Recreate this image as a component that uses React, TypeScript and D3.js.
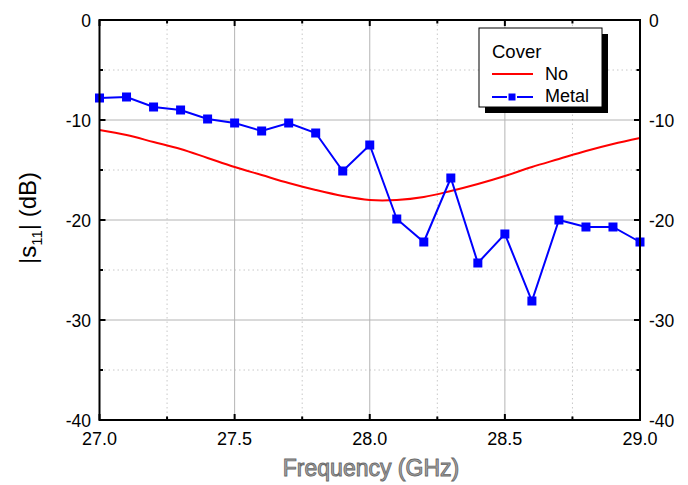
import React from "react";
import * as d3 from "d3";

const freqs = [27.0, 27.1, 27.2, 27.3, 27.4, 27.5, 27.6, 27.7, 27.8, 27.9, 28.0, 28.1, 28.2, 28.3, 28.4, 28.5, 28.6, 28.7, 28.8, 28.9, 29.0];
const noCover = [-11.0, -11.5, -12.2, -12.9, -13.8, -14.7, -15.5, -16.3, -17.0, -17.6, -18.0, -18.0, -17.7, -17.1, -16.4, -15.6, -14.7, -13.9, -13.1, -12.4, -11.8];
const metal = [-7.8, -7.7, -8.7, -9.0, -9.9, -10.3, -11.1, -10.3, -11.3, -15.1, -12.5, -19.9, -22.2, -15.8, -24.3, -21.4, -28.1, -20.0, -20.7, -20.7, -22.2];
const xTicks = [27.0, 27.5, 28.0, 28.5, 29.0];
const xMinor = [27.25, 27.75, 28.25, 28.75];
const yTicks = [0, -10, -20, -30, -40];
const yMinor = [-5, -15, -25, -35];

export default function App() {
  const W = 688, H = 485;
  const L = 99.5, R = 640, T = 20, B = 420;
  const x = d3.scaleLinear().domain([27, 29]).range([L, R]);
  const y = d3.scaleLinear().domain([-40, 0]).range([B, T]);
  const redLine = d3.line<number>().x((_, i) => x(freqs[i])).y((d) => y(d)).curve(d3.curveCatmullRom)(noCover) || "";
  const blueLine = d3.line<number>().x((_, i) => x(freqs[i])).y((d) => y(d))(metal) || "";
  const font = "Liberation Sans, Arial, sans-serif";
  return (
    <svg width={W} height={H} style={{ position: "absolute", left: 0, top: 0 }} fontFamily={font}>
      <rect width={W} height={H} fill="#fff" />
      {/* grid */}
      {xMinor.map((v) => (
        <line key={"xm" + v} x1={x(v)} x2={x(v)} y1={T} y2={B} stroke="#c8c8c8" strokeDasharray="1.5,3" />
      ))}
      {yMinor.map((v) => (
        <line key={"ym" + v} x1={L} x2={R} y1={y(v)} y2={y(v)} stroke="#c8c8c8" strokeDasharray="1.5,3" />
      ))}
      {xTicks.slice(1, -1).map((v) => (
        <line key={"xg" + v} x1={x(v)} x2={x(v)} y1={T} y2={B} stroke="#b4b4b4" strokeWidth={1} />
      ))}
      {yTicks.slice(1, -1).map((v) => (
        <line key={"yg" + v} x1={L} x2={R} y1={y(v)} y2={y(v)} stroke="#b4b4b4" strokeWidth={1} />
      ))}
      {/* data */}
      <path d={redLine} fill="none" stroke="#ff0000" strokeWidth={2} />
      <path d={blueLine} fill="none" stroke="#0000ff" strokeWidth={2} />
      {metal.map((v, i) => (
        <rect key={"m" + i} x={x(freqs[i]) - 4.5} y={y(v) - 4.5} width={9} height={9} fill="#0000ff" />
      ))}
      {/* frame */}
      <rect x={L} y={T} width={R - L} height={B - T} fill="none" stroke="#000" strokeWidth={2} />
      {/* ticks */}
      {xTicks.map((v) => (
        <g key={"xt" + v}>
          <line x1={x(v)} x2={x(v)} y1={B} y2={B - 6} stroke="#000" strokeWidth={2} />
          <line x1={x(v)} x2={x(v)} y1={T} y2={T + 6} stroke="#000" strokeWidth={2} />
          <text x={x(v)} y={445} textAnchor="middle" fontSize={18}>{v.toFixed(1)}</text>
        </g>
      ))}
      {xMinor.map((v) => (
        <g key={"xmt" + v}>
          <line x1={x(v)} x2={x(v)} y1={B} y2={B - 3.5} stroke="#000" strokeWidth={2} />
          <line x1={x(v)} x2={x(v)} y1={T} y2={T + 3.5} stroke="#000" strokeWidth={2} />
        </g>
      ))}
      {yTicks.map((v) => (
        <g key={"yt" + v}>
          <line x1={L} x2={L + 6} y1={y(v)} y2={y(v)} stroke="#000" strokeWidth={2} />
          <line x1={R} x2={R - 6} y1={y(v)} y2={y(v)} stroke="#000" strokeWidth={2} />
          <text x={91} y={y(v) + 6.5} textAnchor="end" fontSize={17.5}>{v}</text>
          <text x={649} y={y(v) + 6.5} textAnchor="start" fontSize={17.5}>{v}</text>
        </g>
      ))}
      {yMinor.map((v) => (
        <g key={"ymt" + v}>
          <line x1={L} x2={L + 3.5} y1={y(v)} y2={y(v)} stroke="#000" strokeWidth={2} />
          <line x1={R} x2={R - 3.5} y1={y(v)} y2={y(v)} stroke="#000" strokeWidth={2} />
        </g>
      ))}
      {/* axis titles */}
      <text x={371} y={476} textAnchor="middle" fontSize={23} fill="#a8a8a8" stroke="#6a6a6a" strokeWidth={0.9}>Frequency (GHz)</text>
      <text transform="translate(36,218) rotate(-90)" textAnchor="middle" fontSize={24}>
        |s<tspan fontSize={15} dy={6}>11</tspan><tspan dy={-6}>| (dB)</tspan>
      </text>
      {/* legend */}
      <rect x={485} y={34} width={123} height={79} fill="#000" />
      <rect x={479} y={28} width={123} height={79} fill="#fff" stroke="#000" strokeWidth={1} />
      <text x={492} y={58} fontSize={18.5}>Cover</text>
      <line x1={492} x2={533} y1={74} y2={74} stroke="#ff0000" strokeWidth={2} />
      <text x={545} y={80} fontSize={18}>No</text>
      <line x1={492} x2={507} y1={97} y2={97} stroke="#0000ff" strokeWidth={2} />
      <line x1={517} x2={533} y1={97} y2={97} stroke="#0000ff" strokeWidth={2} />
      <rect x={508.5} y={93.5} width={7} height={7} fill="#0000ff" />
      <text x={545} y={102} fontSize={18}>Metal</text>
    </svg>
  );
}
